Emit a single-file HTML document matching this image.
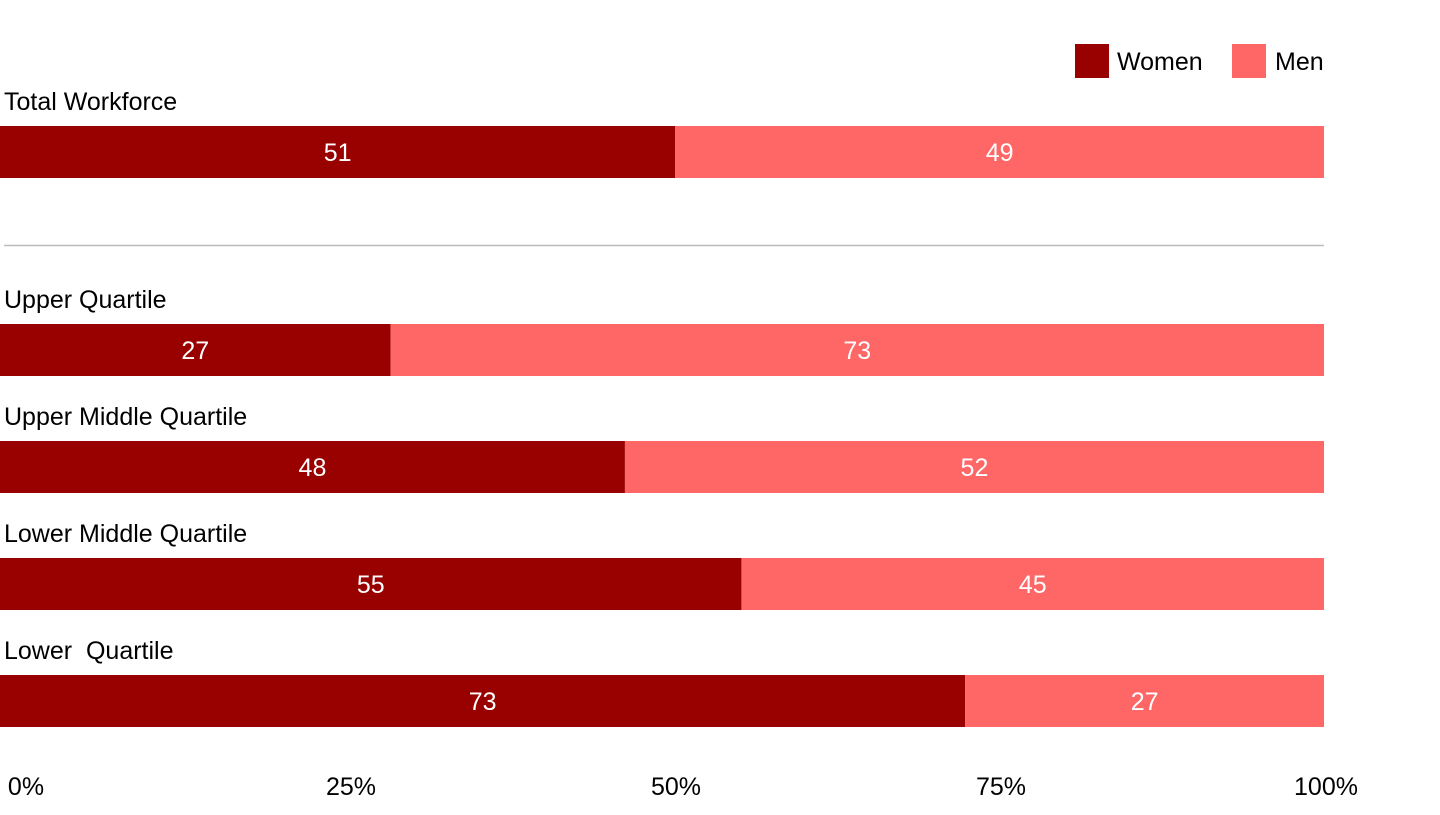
<!DOCTYPE html>
<html><head><meta charset="utf-8"><style>
body{margin:0;width:1440px;height:810px;background:#fff;overflow:hidden;font-family:"Liberation Sans",Arial,sans-serif;}
svg text{font-family:"Liberation Sans",Arial,sans-serif;}
</style></head><body>
<svg id="chart" width="1440" height="810" xmlns="http://www.w3.org/2000/svg">
<g>
<rect x="1075" y="44" width="34" height="34" fill="#990000"/>
<text x="1117" y="70" font-size="25" fill="#000">Women</text>
<rect x="1232" y="44" width="34" height="34" fill="#ff6666"/>
<text x="1275" y="70" font-size="25" fill="#000">Men</text>
</g>
<line x1="4" y1="245.5" x2="1324" y2="245.5" stroke="#bbb" stroke-width="1.5"/>
<g id="bars"></g>
<g id="ticks"></g>
</svg>
<script>
const categories = ["Total Workforce","Upper Quartile","Upper Middle Quartile","Lower Middle Quartile","Lower  Quartile"];
const womenShare = [51, 29.5, 47.2, 56, 72.9];
const womenLabels = ["51","27","48","55","73"];
const menLabels = ["49","73","52","45","27"];
const tickValues = [0,25,50,75,100];
const tickLabels = ["0%","25%","50%","75%","100%"];

const NS="http://www.w3.org/2000/svg";
const plotW=1324;
const xScale=v=>v/100*plotW;
const barTops=[126,324,441,558,675];
const barH=52;
const bars=document.getElementById('bars');
function mk(tag,attrs,parent){const e=document.createElementNS(NS,tag);for(const k in attrs)e.setAttribute(k,attrs[k]);parent.appendChild(e);return e;}
categories.forEach((c,i)=>{
  const y=barTops[i];
  const wx=xScale(womenShare[i]);
  const lab=mk('text',{x:4,y:y-16,'font-size':25,fill:'#000'},bars);
  
  
  lab.textContent=c;lab.style.whiteSpace='pre';
  const w=mk('rect',{x:0,y:y,width:wx,height:barH,fill:'#990000'},bars);
  
  
  const m=mk('rect',{x:wx,y:y,width:plotW-wx,height:barH,fill:'#ff6666'},bars);
  
  
  const wl=mk('text',{x:wx/2,y:y+35,'font-size':25,fill:'#fff','text-anchor':'middle'},bars);
  
  
  wl.textContent=womenLabels[i];
  const ml=mk('text',{x:(wx+plotW)/2,y:y+35,'font-size':25,fill:'#fff','text-anchor':'middle'},bars);
  
  
  ml.textContent=menLabels[i];
});
const ticks=document.getElementById('ticks');
tickValues.forEach((v,i)=>{
  const t=mk('text',{x:26+v/100*1300,y:795,'font-size':25,fill:'#000','text-anchor':'middle'},ticks);
  
  
  t.textContent=tickLabels[i];
});
</script>
</body></html>
